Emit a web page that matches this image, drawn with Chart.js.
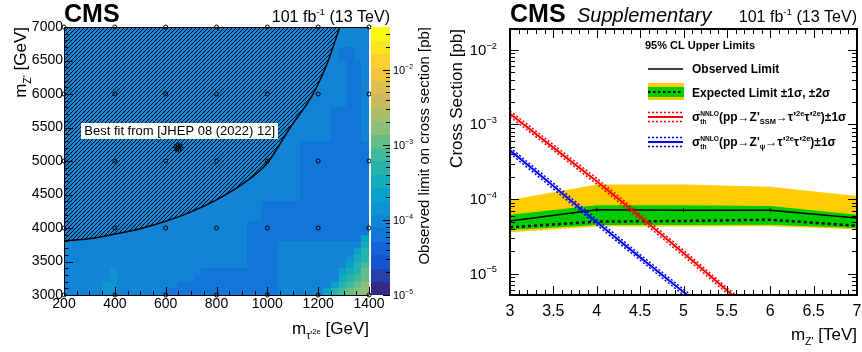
<!DOCTYPE html>
<html>
<head>
<meta charset="utf-8">
<script src="https://cdn.jsdelivr.net/npm/chart.js@4.4.1/dist/chart.umd.min.js"></script>
<style>
  html, body { margin: 0; padding: 0; background: #fff; }
  #quadro { position: relative; width: 862px; height: 352px; overflow: hidden; }
  canvas { position: absolute; top: 0; }
  #mapa { left: 0; }
  #limites { left: 431px; }
</style>
</head>
<body>
<div id="quadro">
  <canvas id="mapa" width="431" height="352"></canvas>
  <canvas id="limites" width="431" height="352"></canvas>
</div>
<script>
/* Painel esquerdo: limite observado no plano (m_tau', m_Z') */

// pontos de massa simulados (círculos)
const mTauPoints = [200, 400, 600, 800, 1000, 1200, 1400];
const mZPoints = [3000, 4000, 5000, 6000, 7000];
// melhor ajuste do JHEP 08 (2022) 12
const bestFit = { x: 650, y: 5200 };
// contorno da região hachurada
const hatchMTau = [200, 300, 400, 500, 600, 700, 800, 900, 1000, 1090, 1180, 1240, 1285];
const hatchMZ = [3810, 3840, 3910, 3990, 4100, 4240, 4420, 4650, 4970, 5500, 6000, 6500, 7000];
// regiões do limite: [mTau ini, mTau fim, mZ ini, mZ fim, limite em pb] (as últimas cobrem as primeiras)
const limitRegions = [
  [200, 1400, 3000, 7000, 1.0e-4],
  [350, 380, 3000, 3200, 1.4e-4],
  [380, 410, 3000, 3400, 1.4e-4],
  [590, 1040, 3000, 3100, 6.5e-5],
  [650, 1040, 3100, 3200, 6.5e-5],
  [710, 1040, 3200, 3300, 6.5e-5],
  [740, 1040, 3300, 3400, 6.5e-5],
  [920, 1040, 3400, 3800, 6.5e-5],
  [920, 1400, 3800, 4100, 6.5e-5],
  [980, 1400, 4100, 4400, 6.5e-5],
  [1130, 1400, 4400, 5300, 6.5e-5],
  [1250, 1370, 5300, 5800, 6.5e-5],
  [1310, 1370, 5800, 6500, 6.5e-5],
  [1280, 1340, 6500, 6700, 6.5e-5],
];
// células de 30 x 100 GeV no canto de mTau alto e mZ baixo: [mTau ini, mZ ini, limite]
const binTau = 30;
const binZ = 100;
const cornerCells = [
  [1220, 3000, 2.6e-4], [1250, 3000, 5.0e-4], [1280, 3000, 7.5e-4], [1310, 3000, 1.15e-3], [1340, 3000, 1.7e-3], [1370, 3000, 1.8e-3],
  [1250, 3100, 2.6e-4], [1280, 3100, 4.5e-4], [1310, 3100, 8.0e-4], [1340, 3100, 1.2e-3], [1370, 3100, 1.7e-3],
  [1280, 3200, 3.0e-4], [1310, 3200, 5.0e-4], [1340, 3200, 8.0e-4], [1370, 3200, 1.3e-3],
  [1280, 3300, 2.0e-4], [1310, 3300, 3.5e-4], [1340, 3300, 6.0e-4], [1370, 3300, 1.0e-3],
  [1310, 3400, 2.4e-4], [1340, 3400, 4.5e-4], [1370, 3400, 7.5e-4],
  [1310, 3500, 1.6e-4], [1340, 3500, 3.2e-4], [1370, 3500, 6.0e-4],
  [1340, 3600, 2.4e-4], [1370, 3600, 4.5e-4],
  [1370, 3700, 3.2e-4],
  [1370, 3800, 2.2e-4],
];
// faixa da escala de cores (pb)
const mapRange = [1e-5, 3.7e-2];

/* Painel direito: limites em função de m_Z' */
const massTeV = [3, 4, 5, 6, 7];
const observed = [5.1e-5, 7.2e-5, 7.1e-5, 7.1e-5, 5.6e-5];
const expected = [4.2e-5, 5.0e-5, 5.1e-5, 5.3e-5, 4.4e-5];
const exp1Up = [6.2e-5, 8.3e-5, 8.3e-5, 8.1e-5, 6.2e-5];
const exp1Dn = [3.85e-5, 4.5e-5, 4.5e-5, 4.55e-5, 4.1e-5];
const exp2Up = [9.7e-5, 1.57e-4, 1.57e-4, 1.46e-4, 1.1e-4];
const exp2Dn = [3.6e-5, 4.3e-5, 4.3e-5, 4.35e-5, 3.95e-5];
// seções de choque teóricas NNLO
const theoryMass = [3, 3.5, 4, 4.5, 5, 5.5, 6];
const xsecSSM = [1.39e-3, 4.9e-4, 1.74e-4, 5.8e-5, 1.9e-5, 6.0e-6, 1.9e-6];
const xsecSSMUp = [1.52e-3, 5.35e-4, 1.9e-4, 6.3e-5, 2.07e-5, 6.5e-6, 2.1e-6];
const xsecSSMDn = [1.27e-3, 4.5e-4, 1.59e-4, 5.3e-5, 1.74e-5, 5.5e-6, 1.75e-6];
const xsecPsi = [4.5e-4, 1.5e-4, 4.9e-5, 1.66e-5, 5.7e-6, 2.0e-6, 7.0e-7];
const xsecPsiUp = [4.9e-4, 1.64e-4, 5.35e-5, 1.81e-5, 6.2e-6, 2.2e-6, 7.6e-7];
const xsecPsiDn = [4.1e-4, 1.37e-4, 4.5e-5, 1.52e-5, 5.2e-6, 1.83e-6, 6.4e-7];

const FAMILIA = '"Liberation Sans", Arial, Helvetica, sans-serif';
Chart.defaults.font.family = FAMILIA;
Chart.defaults.color = '#000';

// paleta kBird do ROOT
const birdR = [0.2082, 0.0592, 0.0780, 0.0232, 0.1802, 0.5301, 0.8186, 0.9956, 0.9764];
const birdG = [0.1664, 0.3599, 0.5041, 0.6419, 0.7178, 0.7492, 0.7328, 0.7862, 0.9832];
const birdB = [0.5293, 0.8684, 0.8385, 0.7914, 0.6425, 0.4662, 0.3499, 0.1968, 0.0539];
const nContornos = 20;

function corBird(t) {
  const j = Math.min(7, Math.floor(t * 8));
  const f = t * 8 - j;
  const c = arr => Math.round(255 * (arr[j] + (arr[j + 1] - arr[j]) * f));
  return `rgb(${c(birdR)},${c(birdG)},${c(birdB)})`;
}
const coresNiveis = Array.from({ length: nContornos }, (_, i) => corBird(i / (nContornos - 1)));

function corLimite(v) {
  const lo = Math.log10(mapRange[0]);
  const hi = Math.log10(mapRange[1]);
  let i = Math.floor((Math.log10(v) - lo) / (hi - lo) * nContornos);
  i = Math.max(0, Math.min(nContornos - 1, i));
  return coresNiveis[i];
}

// texto com sobrescritos e subscritos
const TIPOS = { n: [1, 0], sup: [0.62, -0.42], sub: [0.62, 0.28], subsup: [0.45, -0.02] };

function fonte(size, weight, style) {
  return `${style} ${weight} ${size}px ${FAMILIA}`;
}

function medirSeg(ctx, seg, size, weight, style) {
  if (seg.stack) {
    ctx.font = fonte(size * 0.55, weight, style);
    return Math.max(...seg.stack.map(s => ctx.measureText(s).width));
  }
  const [t, k = 'n'] = typeof seg === 'string' ? [seg] : seg;
  ctx.font = fonte(size * TIPOS[k][0], weight, style);
  return ctx.measureText(t).width;
}

function textoRico(ctx, segs, x, y, size, opts = {}) {
  const { align = 'left', weight = 'normal', style = 'normal', color = '#000' } = opts;
  const total = segs.reduce((s, seg) => s + medirSeg(ctx, seg, size, weight, style), 0);
  let cx = align === 'right' ? x - total : align === 'center' ? x - total / 2 : x;
  ctx.save();
  ctx.fillStyle = color;
  ctx.textAlign = 'left';
  ctx.textBaseline = 'alphabetic';
  segs.forEach(seg => {
    const w = medirSeg(ctx, seg, size, weight, style);
    if (seg.stack) {
      ctx.fillText(seg.stack[0], cx, y - size * 0.42);
      ctx.fillText(seg.stack[1], cx, y + size * 0.25);
    } else {
      const [t, k = 'n'] = typeof seg === 'string' ? [seg] : seg;
      ctx.fillText(t, cx, y + size * TIPOS[k][1]);
    }
    cx += w;
  });
  ctx.restore();
}

function textoVertical(ctx, segs, x, yTopo, size) {
  ctx.save();
  ctx.translate(x, yTopo);
  ctx.rotate(-Math.PI / 2);
  textoRico(ctx, segs, 0, 0, size, { align: 'right' });
  ctx.restore();
}

function potencia(ctx, e, x, y, size, align) {
  textoRico(ctx, ['10', [`\u2212${-e}`, 'sup']], x, y, size, { align });
}

// o rótulo da última marca não deve encolher a área do gráfico
function fixarAltura(h) {
  return s => {
    s.height = h;
    s.paddingLeft = 0;
    s.paddingRight = 0;
  };
}

/* ---------- mapa ---------- */
const canvasMapa = document.getElementById('mapa');
const ctxMapa = canvasMapa.getContext('2d');

// hachura "///" da região do melhor ajuste
function criarHachura() {
  const tile = document.createElement('canvas');
  tile.width = 4;
  tile.height = 4;
  const c = tile.getContext('2d');
  c.strokeStyle = '#000';
  c.lineWidth = 1;
  c.beginPath();
  c.moveTo(-1, 5); c.lineTo(5, -1);
  c.moveTo(-1, 1); c.lineTo(1, -1);
  c.moveTo(3, 5); c.lineTo(5, 3);
  c.stroke();
  return ctxMapa.createPattern(tile, 'repeat');
}

const pontosMassa = [];
mZPoints.forEach(mz => mTauPoints.forEach(mt => pontosMassa.push({ x: mt, y: mz })));

const pluginMapa = {
  id: 'mapaLimites',
  beforeDatasetsDraw(chart) {
    const { ctx, chartArea: a, scales: { x, y } } = chart;
    ctx.save();
    ctx.beginPath();
    ctx.rect(a.left, a.top, a.width, a.height);
    ctx.clip();
    const celula = (x0, x1, y0, y1, v) => {
      const px0 = Math.round(x.getPixelForValue(x0));
      const px1 = Math.round(x.getPixelForValue(x1));
      const py0 = Math.round(y.getPixelForValue(y1));
      const py1 = Math.round(y.getPixelForValue(y0));
      ctx.fillStyle = corLimite(v);
      ctx.fillRect(px0, py0, px1 - px0, py1 - py0);
    };
    limitRegions.forEach(r => celula(...r));
    cornerCells.forEach(([mt, mz, v]) => celula(mt, mt + binTau, mz, mz + binZ, v));
    ctx.restore();
  },
  afterDatasetsDraw(chart) {
    const { ctx, chartArea: a, scales: { x, y, yCor } } = chart;

    // caixa do melhor ajuste
    ctx.save();
    ctx.font = fonte(13, 'normal', 'normal');
    const txt = 'Best fit from [JHEP 08 (2022) 12]';
    const w = ctx.measureText(txt).width;
    const cx = x.getPixelForValue(655);
    const cy = y.getPixelForValue(5455);
    ctx.fillStyle = '#fff';
    ctx.fillRect(Math.round(cx - w / 2 - 3), Math.round(cy - 8), Math.round(w + 6), 16);
    ctx.fillStyle = '#000';
    ctx.textAlign = 'center';
    ctx.textBaseline = 'middle';
    ctx.fillText(txt, cx, cy + 1);
    ctx.restore();

    // barra de cores
    const lo = Math.log10(mapRange[0]);
    const hi = Math.log10(mapRange[1]);
    const bx0 = a.right + 2;
    const bx1 = a.right + 21;
    ctx.save();
    for (let i = 0; i < nContornos; i++) {
      const v0 = 10 ** (lo + (hi - lo) * i / nContornos);
      const v1 = 10 ** (lo + (hi - lo) * (i + 1) / nContornos);
      const p0 = yCor.getPixelForValue(v0);
      const p1 = yCor.getPixelForValue(v1);
      ctx.fillStyle = coresNiveis[i];
      ctx.fillRect(bx0, Math.floor(p1), bx1 - bx0, Math.ceil(p0) - Math.floor(p1));
    }

    // marcas internas
    ctx.strokeStyle = '#000';
    ctx.lineWidth = 1;
    ctx.beginPath();
    for (let m = 200; m <= 1400; m += 50) {
      const px = Math.round(x.getPixelForValue(m)) + 0.5;
      const len = m % 200 === 0 ? 8 : 4;
      ctx.moveTo(px, a.bottom);
      ctx.lineTo(px, a.bottom - len);
    }
    for (let m = 3000; m <= 7000; m += 100) {
      const py = Math.round(y.getPixelForValue(m)) + 0.5;
      const len = m % 500 === 0 ? 9 : 4.5;
      ctx.moveTo(a.left, py);
      ctx.lineTo(a.left + len, py);
    }
    for (let e = -5; e <= -2; e++) {
      for (let k = 1; k <= 9; k++) {
        const v = k * 10 ** e;
        if (v < mapRange[0] || v > mapRange[1]) continue;
        const py = Math.round(yCor.getPixelForValue(v)) + 0.5;
        ctx.moveTo(bx1, py);
        ctx.lineTo(bx1 - (k === 1 ? 7 : 4), py);
      }
    }
    ctx.stroke();

    // moldura
    ctx.beginPath();
    ctx.moveTo(a.left + 0.5, a.top + 0.5);
    ctx.lineTo(a.left + 0.5, a.bottom + 0.5);
    ctx.lineTo(a.right, a.bottom + 0.5);
    ctx.moveTo(a.left, a.top + 0.5);
    ctx.lineTo(a.right, a.top + 0.5);
    ctx.stroke();
    ctx.restore();

    for (let e = -5; e <= -2; e++) {
      potencia(ctx, e, bx1 + 3, yCor.getPixelForValue(10 ** e) + 4, 11, 'left');
    }

    // títulos
    textoRico(ctx, [['CMS']], a.left, 22, 25, { weight: 'bold' });
    textoRico(ctx, ['101 fb', ['-1', 'sup'], ' (13 TeV)'], 390, 22, 16, { align: 'right' });
    textoRico(ctx, ['m', ["\u03c4'", 'sub'], ['2e', 'subsup'], ' [GeV]'], a.right, 334, 17, { align: 'right' });
    textoVertical(ctx, ['m', ["Z'", 'sub'], ' [GeV]'], 26, a.top, 17);
    textoVertical(ctx, ['Observed limit on cross section [pb]'], 429, a.top, 15);
  }
};

const eixoBase = {
  grid: { display: false, drawTicks: false },
  border: { display: false },
};

new Chart(ctxMapa, {
  type: 'scatter',
  data: {
    datasets: [
      {
        label: 'Best fit region',
        data: hatchMTau.map((m, i) => ({ x: m, y: hatchMZ[i] })),
        showLine: true,
        fill: 'end',
        backgroundColor: criarHachura(),
        borderColor: '#000',
        borderWidth: 1.5,
        pointRadius: 0,
        cubicInterpolationMode: 'monotone',
        xAxisID: 'x',
        yAxisID: 'y',
        order: 3,
      },
      {
        label: 'Mass points',
        data: pontosMassa,
        pointStyle: 'circle',
        pointRadius: 2,
        borderWidth: 1,
        borderColor: '#000',
        backgroundColor: 'rgba(0,0,0,0)',
        clip: false,
        xAxisID: 'x',
        yAxisID: 'y',
        order: 2,
      },
      {
        label: 'Best fit',
        data: [bestFit],
        pointStyle: 'star',
        pointRadius: 5,
        borderWidth: 1.5,
        borderColor: '#000',
        xAxisID: 'x',
        yAxisID: 'y',
        order: 1,
      },
    ],
  },
  options: {
    responsive: false,
    animation: false,
    events: [],
    layout: { padding: { top: 27, left: 0, right: 0, bottom: 0 } },
    plugins: { legend: { display: false }, tooltip: { enabled: false } },
    scales: {
      x: {
        ...eixoBase,
        type: 'linear', min: 200, max: 1400,
        afterFit: fixarAltura(57),
        ticks: { stepSize: 200, padding: 1, color: '#000', font: { size: 14 }, maxRotation: 0, callback: v => String(v) },
      },
      y: {
        ...eixoBase,
        type: 'linear', min: 3000, max: 7000,
        afterFit: s => { s.width = 64; },
        ticks: { stepSize: 500, padding: 1, color: '#000', font: { size: 14 }, callback: v => String(v) },
      },
      yCor: {
        ...eixoBase,
        type: 'logarithmic', axis: 'y', position: 'right',
        min: mapRange[0], max: mapRange[1],
        afterFit: s => { s.width = 62; },
        ticks: { display: false },
      },
    },
  },
  plugins: [pluginMapa],
});

/* ---------- limites ---------- */
const ctxLim = document.getElementById('limites').getContext('2d');
const pares = (xs, ys) => xs.map((v, i) => ({ x: v, y: ys[i] }));

const pluginLimites = {
  id: 'limitesZ',
  afterDatasetsDraw(chart) {
    const { ctx, chartArea: a, scales: { x, y } } = chart;
    ctx.save();
    ctx.strokeStyle = '#000';
    ctx.lineWidth = 1;
    ctx.beginPath();
    for (let i = 30; i <= 70; i++) {
      const px = Math.round(x.getPixelForValue(i / 10)) + 0.5;
      const len = i % 5 === 0 ? 9 : 5;
      ctx.moveTo(px, a.bottom); ctx.lineTo(px, a.bottom - len);
      ctx.moveTo(px, a.top); ctx.lineTo(px, a.top + len);
    }
    for (let e = -6; e <= -1; e++) {
      for (let k = 1; k <= 9; k++) {
        const v = k * 10 ** e;
        if (v < y.min || v > y.max) continue;
        const py = Math.round(y.getPixelForValue(v)) + 0.5;
        const len = k === 1 ? 9 : 5;
        ctx.moveTo(a.left, py); ctx.lineTo(a.left + len, py);
        ctx.moveTo(a.right, py); ctx.lineTo(a.right - len, py);
      }
    }
    ctx.stroke();
    ctx.lineWidth = 2;
    ctx.strokeRect(a.left, a.top, a.width, a.height);
    ctx.restore();

    for (let e = -5; e <= -2; e++) {
      potencia(ctx, e, a.left - 13, y.getPixelForValue(10 ** e) + 5, 15, 'right');
    }

    // legenda
    const lx0 = 217;
    const lx1 = 252;
    const tx = 261;
    textoRico(ctx, ['95% CL Upper Limits'], 214, 49, 11, { weight: 'bold' });
    ctx.save();
    ctx.strokeStyle = '#000';
    ctx.lineWidth = 1.5;
    ctx.beginPath(); ctx.moveTo(lx0, 69); ctx.lineTo(lx1, 69); ctx.stroke();
    ctx.fillStyle = '#ffcc00';
    ctx.fillRect(lx0, 83, lx1 - lx0 + 1, 17);
    ctx.fillStyle = '#00cc00';
    ctx.fillRect(lx0, 87, lx1 - lx0 + 1, 10);
    ctx.setLineDash([2.5, 2.5]);
    ctx.lineWidth = 2;
    ctx.beginPath(); ctx.moveTo(lx0, 92); ctx.lineTo(lx1, 92); ctx.stroke();
    [[117, '#ff0000'], [142, '#0000ff']].forEach(([ly, cor]) => {
      ctx.strokeStyle = cor;
      ctx.setLineDash([]);
      ctx.lineWidth = 2;
      ctx.beginPath(); ctx.moveTo(lx0, ly); ctx.lineTo(lx1, ly); ctx.stroke();
      ctx.setLineDash([2, 2]);
      ctx.lineWidth = 1.5;
      ctx.beginPath();
      ctx.moveTo(lx0, ly - 4.5); ctx.lineTo(lx1, ly - 4.5);
      ctx.moveTo(lx0, ly + 4.5); ctx.lineTo(lx1, ly + 4.5);
      ctx.stroke();
    });
    ctx.restore();
    const negrito = { weight: 'bold' };
    textoRico(ctx, ['Observed Limit'], tx, 73, 12, negrito);
    textoRico(ctx, ['Expected Limit \u00b11\u03c3, \u00b12\u03c3'], tx, 97, 12, negrito);
    textoRico(ctx, ['\u03c3', { stack: ['NNLO', 'th'] }, "(pp\u2192Z'", ['SSM', 'sub'], "\u2192\u03c4'", ['2e', 'sup'], "\u03c4'", ['2e', 'sup'], ')\u00b11\u03c3'], tx, 121, 12, negrito);
    textoRico(ctx, ['\u03c3', { stack: ['NNLO', 'th'] }, "(pp\u2192Z'", ['\u03c8', 'sub'], "\u2192\u03c4'", ['2e', 'sup'], "\u03c4'", ['2e', 'sup'], ')\u00b11\u03c3'], tx, 146, 12, negrito);

    // títulos
    textoRico(ctx, ['CMS'], a.left, 22, 25, { weight: 'bold' });
    textoRico(ctx, ['Supplementary'], 146, 22, 20, { style: 'italic' });
    textoRico(ctx, ['101 fb', ['-1', 'sup'], ' (13 TeV)'], a.right, 22, 16, { align: 'right' });
    textoRico(ctx, ['m', ["Z'", 'sub'], ' [TeV]'], a.right, 340, 17, { align: 'right' });
    textoVertical(ctx, ['Cross Section [pb]'], 31, a.top, 17);
  }
};

const linha = (label, xs, ys, extra) => Object.assign({
  label,
  data: pares(xs, ys),
  borderWidth: 0,
  pointRadius: 0,
  fill: false,
  tension: 0,
}, extra);

new Chart(ctxLim, {
  type: 'line',
  data: {
    datasets: [
      linha('Expected \u00b12\u03c3 up', massTeV, exp2Up, { fill: '+1', backgroundColor: '#ffcc00', order: 6 }),
      linha('Expected \u00b12\u03c3 down', massTeV, exp2Dn, { order: 6 }),
      linha('Expected \u00b11\u03c3 up', massTeV, exp1Up, { fill: '+1', backgroundColor: '#00cc00', order: 5 }),
      linha('Expected \u00b11\u03c3 down', massTeV, exp1Dn, { order: 5 }),
      linha('Expected Limit', massTeV, expected, { borderColor: '#000', borderWidth: 2.5, borderDash: [3, 3], order: 4 }),
      linha('Observed Limit', massTeV, observed, {
        borderColor: '#000', borderWidth: 1.5, order: 3,
        pointRadius: 2, pointStyle: 'line', rotation: 90, pointBorderColor: '#000', pointBorderWidth: 1,
      }),
      linha('SSM +1\u03c3', theoryMass, xsecSSMUp, { borderColor: '#ff0000', borderWidth: 1.5, borderDash: [2, 2], order: 2 }),
      linha('SSM -1\u03c3', theoryMass, xsecSSMDn, { borderColor: '#ff0000', borderWidth: 1.5, borderDash: [2, 2], order: 2 }),
      linha('SSM', theoryMass, xsecSSM, { borderColor: '#ff0000', borderWidth: 2, order: 1 }),
      linha('psi +1\u03c3', theoryMass, xsecPsiUp, { borderColor: '#0000ff', borderWidth: 1.5, borderDash: [2, 2], order: 2 }),
      linha('psi -1\u03c3', theoryMass, xsecPsiDn, { borderColor: '#0000ff', borderWidth: 1.5, borderDash: [2, 2], order: 2 }),
      linha('psi', theoryMass, xsecPsi, { borderColor: '#0000ff', borderWidth: 2, order: 1 }),
    ],
  },
  options: {
    responsive: false,
    animation: false,
    events: [],
    layout: { padding: { top: 29, left: 0, right: 5, bottom: 0 } },
    plugins: { legend: { display: false }, tooltip: { enabled: false } },
    scales: {
      x: {
        ...eixoBase,
        type: 'linear', min: 3, max: 7,
        afterFit: fixarAltura(57),
        ticks: { stepSize: 0.5, padding: 7, color: '#000', font: { size: 16 }, maxRotation: 0, callback: v => String(v) },
      },
      y: {
        ...eixoBase,
        type: 'logarithmic', min: 5.2e-6, max: 1.9e-2,
        afterFit: s => { s.width = 79; },
        ticks: { display: false },
      },
    },
  },
  plugins: [pluginLimites],
});
</script>
</body>
</html>
